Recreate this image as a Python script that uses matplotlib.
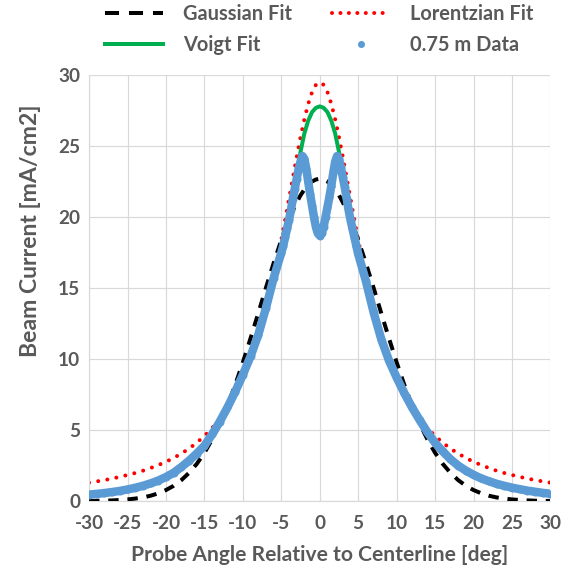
import numpy as np
import matplotlib
matplotlib.use("Agg")
import matplotlib.pyplot as plt
from matplotlib.lines import Line2D

# shared angle grid for the three fits [deg]
fit_x = [-30, -29, -28, -27, -26, -25, -24, -23, -22, -21, -20, -19, -18, -17, -16,
         -15, -14, -13, -12, -11, -10, -9, -8, -7, -6,
         -5, -4.5, -4, -3.5, -3, -2.5, -2, -1.5, -1, -0.5, 0,
         0.5, 1, 1.5, 2, 2.5, 3, 3.5, 4, 4.5, 5,
         6, 7, 8, 9, 10, 11, 12, 13, 14, 15, 16, 17, 18, 19, 20,
         21, 22, 23, 24, 25, 26, 27, 28, 29, 30]

gauss_fit = [0.01, 0.02, 0.03, 0.05, 0.08, 0.12, 0.18, 0.26, 0.38, 0.55, 0.78, 1.08, 1.48, 1.99, 2.62,
             3.40, 4.35, 5.46, 6.74, 8.18, 9.77, 11.47, 13.23, 15.02, 16.76,
             18.39, 19.14, 19.84, 20.47, 21.04, 21.54, 21.95, 22.27, 22.51, 22.65, 22.70,
             22.65, 22.51, 22.27, 21.95, 21.54, 21.04, 20.47, 19.84, 19.14, 18.39,
             16.76, 15.02, 13.23, 11.47, 9.77, 8.18, 6.74, 5.46, 4.35, 3.40, 2.62, 1.99, 1.48, 1.08, 0.78,
             0.55, 0.38, 0.26, 0.18, 0.12, 0.08, 0.05, 0.03, 0.02, 0.01]

lorentz_fit = [1.30, 1.39, 1.48, 1.59, 1.71, 1.84, 1.98, 2.14, 2.33, 2.54, 2.77, 3.04, 3.35, 3.70, 4.11,
               4.59, 5.15, 5.81, 6.60, 7.53, 8.65, 9.99, 11.60, 13.52, 15.79,
               18.41, 19.82, 21.29, 22.77, 24.24, 25.64, 26.90, 27.98, 28.81, 29.32, 29.50,
               29.32, 28.81, 27.98, 26.90, 25.64, 24.24, 22.77, 21.29, 19.82, 18.41,
               15.79, 13.52, 11.60, 9.99, 8.65, 7.53, 6.60, 5.81, 5.15, 4.59, 4.11, 3.70, 3.35, 3.04, 2.77,
               2.54, 2.33, 2.14, 1.98, 1.84, 1.71, 1.59, 1.48, 1.39, 1.30]

voigt_fit = [0.50, 0.56, 0.62, 0.70, 0.78, 0.88, 1.00, 1.15, 1.32, 1.52, 1.78, 2.08, 2.45, 2.90, 3.42,
             4.00, 4.75, 5.65, 6.60, 7.65, 8.80, 10.1, 11.6, 13.5, 15.6,
             17.6, 18.7, 20.0, 21.5, 23.0, 24.6, 25.9, 26.8, 27.4, 27.7, 27.8,
             27.7, 27.4, 26.8, 25.9, 24.6, 23.0, 21.5, 20.0, 18.7, 17.6,
             15.6, 13.5, 11.6, 10.1, 8.80, 7.65, 6.60, 5.65, 4.75, 4.00, 3.42, 2.90, 2.45, 2.08, 1.78,
             1.52, 1.32, 1.15, 1.00, 0.88, 0.78, 0.70, 0.62, 0.56, 0.50]

# measured beam current at 0.75 m
data_x = [-30, -29, -28, -27, -26, -25, -24, -23, -22, -21, -20, -19, -18, -17, -16,
          -15, -14, -13, -12, -11, -10, -9, -8, -7, -6,
          -5, -4.75, -4.5, -4.25, -4, -3.75, -3.5, -3.25, -3, -2.75, -2.5, -2.25, -2,
          -1.75, -1.5, -1.25, -1, -0.75, -0.5, -0.25, 0,
          0.25, 0.5, 0.75, 1, 1.25, 1.5, 1.75, 2, 2.25, 2.5, 2.75, 3,
          3.25, 3.5, 3.75, 4, 4.25, 4.5, 4.75, 5,
          6, 7, 8, 9, 10, 11, 12, 13, 14, 15, 16, 17, 18, 19, 20,
          21, 22, 23, 24, 25, 26, 27, 28, 29, 30]
data_y = [0.46, 0.51, 0.57, 0.64, 0.72, 0.82, 0.94, 1.08, 1.25, 1.45, 1.70, 2.00, 2.40, 2.85, 3.35,
          3.90, 4.70, 5.60, 6.60, 7.70, 8.90, 10.2, 11.7, 13.6, 15.7,
          17.5, 18.0, 18.6, 19.2, 19.8, 20.5, 21.3, 22.0, 22.7, 23.4, 23.9, 24.3, 24.1,
          23.4, 22.5, 21.6, 20.8, 20.0, 19.3, 18.85, 18.7,
          18.85, 19.3, 20.0, 20.7, 21.4, 22.2, 23.1, 23.9, 24.3, 24.1, 23.5, 22.8,
          22.1, 21.3, 20.5, 19.8, 19.2, 18.6, 18.0, 17.4,
          15.5, 13.3, 11.4, 9.9, 8.7, 7.6, 6.6, 5.7, 4.85, 4.10, 3.50, 2.95, 2.50, 2.15, 1.85,
          1.60, 1.40, 1.22, 1.08, 0.95, 0.84, 0.74, 0.66, 0.58, 0.52]

x_ticks = list(range(-30, 31, 5))
y_ticks = list(range(0, 31, 5))

grey = '#595959'
plt.rcParams['font.family'] = ['Lato', 'DejaVu Sans']
plt.rcParams['font.weight'] = 'bold'
plt.rcParams['axes.unicode_minus'] = False

fig = plt.figure(figsize=(571 / 72, 578 / 72), dpi=72)
ax = fig.add_axes([0.156, 0.133, 0.808, 0.737])

ax.plot(data_x, data_y, color='#5B9BD5', lw=8.5, solid_capstyle='round',
        solid_joinstyle='round', zorder=4)
ax.plot(fit_x, voigt_fit, color='#00B050', lw=4, zorder=2)
ax.plot(fit_x, gauss_fit, color='black', lw=4, ls=(0, (2.6, 2.2)), zorder=3)
ax.plot(fit_x, lorentz_fit, color='#FF0000', lw=4, ls=(0, (0.01, 2.3)),
        dash_capstyle='round', zorder=1)
ax.plot(data_x, data_y, 'o', color='#5B9BD5', ms=8, mew=0, zorder=5)

ax.set_xlim(-30, 30)
ax.set_ylim(0, 30)
ax.set_xticks(x_ticks)
ax.set_yticks(y_ticks)
ax.grid(True, color='#D9D9D9', lw=1.2)
ax.set_axisbelow(True)
for s in ['top', 'right']:
    ax.spines[s].set_visible(False)
for s in ['left', 'bottom']:
    ax.spines[s].set_color('#D9D9D9')
    ax.spines[s].set_linewidth(1.2)
ax.tick_params(length=0, labelsize=19, labelcolor=grey)
ax.tick_params(axis='x', pad=14)
ax.tick_params(axis='y', pad=9)
ax.set_xlabel('Probe Angle Relative to Centerline [deg]', fontsize=21, color=grey,
              fontweight='bold', labelpad=13)
ax.set_ylabel('Beam Current [mA/cm2]', fontsize=23, color=grey,
              fontweight='bold')
ax.yaxis.set_label_coords(-0.105, 0.635)

handles = [
    Line2D([], [], color='black', lw=4, ls=(0, (3.5, 2.5))),
    Line2D([], [], color='#00B050', lw=4),
    Line2D([], [], color='#FF0000', lw=4, ls=(0, (0.01, 2.1)), dash_capstyle='round'),
    Line2D([], [], color='#5B9BD5', marker='o', ms=7, mew=0, ls='none'),
]
labels = ['Gaussian Fit', 'Voigt Fit', 'Lorentzian Fit', '0.75 m Data']
fig.legend(handles, labels, ncol=2, loc='upper left', bbox_to_anchor=(105 / 571, 1 - 4 / 578),
           borderpad=0, borderaxespad=0,
           frameon=False, fontsize=20, labelcolor=grey, handlelength=2.9,
           handletextpad=1.0, columnspacing=2.0, labelspacing=0.55)

fig.savefig('out.png', dpi=72)
